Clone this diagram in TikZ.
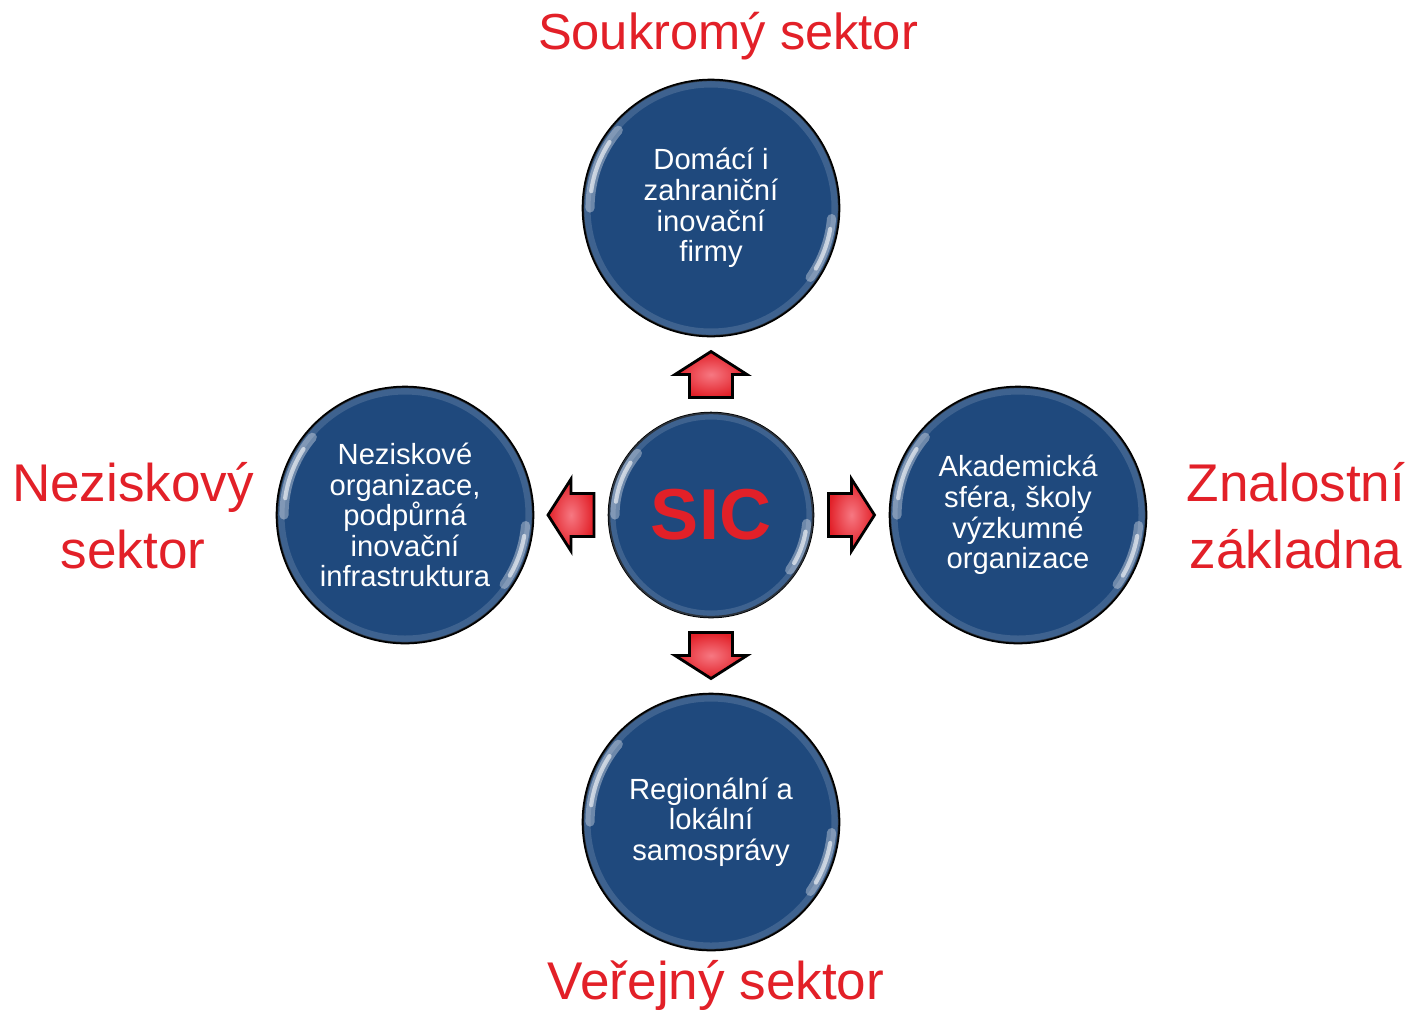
\documentclass[tikz,border=0pt]{standalone}
\usepackage{fontspec}
\setmainfont{Liberation Sans}
\usetikzlibrary{positioning,calc}

\definecolor{modra}{RGB}{31,73,125}
\definecolor{cervena}{RGB}{226,32,40}
\definecolor{svetlacervena}{RGB}{246,120,130}

\tikzset{
  kruh/.style={circle, fill=modra, draw=black, line width=0.7pt,
    minimum size=2.56cm, inner sep=0pt, text=white, align=center,
    font=\fontsize{8.3pt}{8.7pt}\selectfont},
  stred/.style={kruh, minimum size=2.04cm,
    text=cervena, font=\fontsize{20.5pt}{22pt}\selectfont\bfseries},
  sektor/.style={text=cervena, align=center,
    font=\fontsize{15.1pt}{19pt}\selectfont},
  lesk/.style={white, opacity=0.35, line width=2.6pt, line cap=round},
  leskjadro/.style={white, opacity=0.6, line width=1.2pt, line cap=round},
  okraj/.style={modra!60!white, opacity=0.35, line width=2pt},
  sipka/.style={draw=black, line width=0.8pt, line join=miter,
    inner color=svetlacervena, outer color=cervena}
}

\newcommand{\sipka}[2]{%
  \shade[sipka, shift={(#1)}, rotate=#2]
    (0,-23) -- (36,0) -- (21.5,0) -- (21.5,23) -- (-21.5,23)
    -- (-21.5,0) -- (-36,0) -- cycle;}

\begin{document}
\begin{tikzpicture}[x=0.01cm, y=-0.01cm]

    \useasboundingbox (0,0) rectangle (1410,1011);

    % Kruhy
    \node[stred] (sic) at (711,515) {SIC};
    \node[kruh] (soukr) at (711,208) {Domácí i\\zahraniční\\inovační\\firmy};
    \node[kruh] (nezisk) at (405,515) {Neziskové\\organizace,\\podpůrná\\inovační\\infrastruktura};
    \node[kruh] (znal) at (1018,515) {Akademická\\sféra, školy\\výzkumné\\organizace};
    \node[kruh] (verej) at (711,822) {Regionální a\\lokální\\samosprávy};

    % Lesk
    \foreach \n/\r in {sic/96, soukr/121, nezisk/121, znal/121, verej/121} {
      \draw[okraj] (\n.center) circle[radius=\r+3];
      \draw[lesk] ($(\n.center)+(-140:\r)$) arc[start angle=-140, end angle=-180, radius=\r];
      \draw[leskjadro] ($(\n.center)+(-147:\r)$) arc[start angle=-147, end angle=-172, radius=\r];
      \draw[lesk] ($(\n.center)+(5:\r)$) arc[start angle=5, end angle=35, radius=\r];
      \draw[leskjadro] ($(\n.center)+(10:\r)$) arc[start angle=10, end angle=30, radius=\r];
    }

    % Sipky
    \coordinate (sN) at ($(sic.north)!0.5!(soukr.south)$);
    \coordinate (sS) at ($(sic.south)!0.5!(verej.north)$);
    \coordinate (sW) at ($(sic.west)!0.5!(nezisk.east)$);
    \coordinate (sE) at ($(sic.east)!0.5!(znal.west)$);
    \sipka{sN}{0}
    \sipka{sS}{180}
    \sipka{sW}{90}
    \sipka{sE}{-90}

    % Popisky
    \node[sektor, font=\fontsize{14.4pt}{18pt}\selectfont] (lsoukr) at (728,36) {Soukromý sektor};
    \node[sektor] (lnezisk) at (133,516) {Neziskový\\sektor};
    \node[sektor] (lznal) at (1296,516) {Znalostní\\základna};
    \node[sektor] (lverej) at (716,985) {Veřejný sektor};

\end{tikzpicture}
\end{document}
